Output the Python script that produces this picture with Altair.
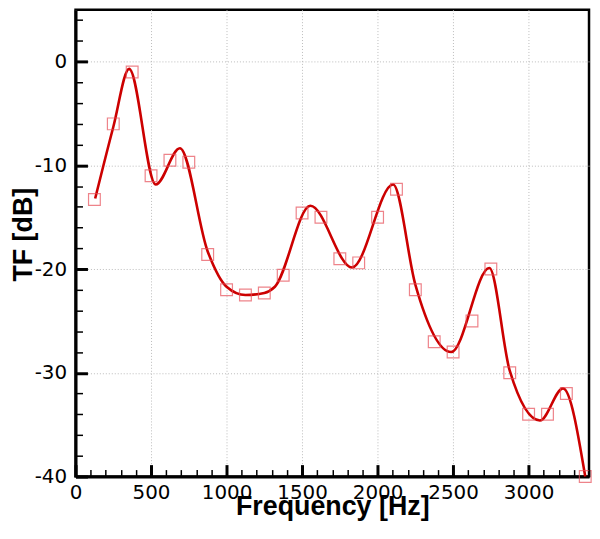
import altair as alt
import pandas as pd

# Measured points (squares)
freq_pts = [125, 250, 375, 500, 625, 750, 875, 1000, 1125, 1250, 1375, 1500, 1625, 1750,
            1875, 2000, 2125, 2250, 2375, 2500, 2625, 2750, 2875, 3000, 3125, 3250, 3375]
tf_pts = [-13.3, -6.0, -1.0, -11.0, -9.5, -9.7, -18.6, -22.0, -22.5, -22.3, -20.6, -14.6, -15.0, -19.0,
          -19.4, -15.0, -12.3, -22.0, -27.0, -28.0, -25.0, -20.0, -30.0, -34.0, -34.0, -32.0, -40.0]

# Smooth curve (read at its turning points)
freq_curve = [130, 250, 355, 531, 691, 875, 1000, 1125, 1250, 1320, 1555, 1831, 2103, 2250,
              2487, 2740, 2875, 3075, 3228, 3375]
tf_curve = [-13.2, -6.3, -0.7, -11.85, -8.35, -18.3, -21.7, -22.5, -22.3, -21.7, -13.9, -19.85, -11.85, -21.5,
            -28.0, -19.9, -29.8, -34.6, -31.5, -40.0]

x_major = [0, 500, 1000, 1500, 2000, 2500, 3000]
x_minor = list(range(0, 3401, 100))
y_major = [-40, -30, -20, -10, 0]
y_minor = list(range(-40, 5, 2))

W, H = 517, 470

pts = pd.DataFrame({"f": freq_pts, "tf": tf_pts})
crv = pd.DataFrame({"f": freq_curve, "tf": tf_curve})

xscale = alt.Scale(domain=[0, 3400], nice=False, zero=False)
yscale = alt.Scale(domain=[-40, 5], nice=False, zero=False)

# Layer 1: line with labelled axes + grid
line = alt.Chart(crv).mark_line(color="#CC0000", strokeWidth=2.6, interpolate="monotone").encode(
    x=alt.X("f:Q", scale=xscale, axis=alt.Axis(
        orient="bottom", values=x_major, title="Frequency [Hz]", labelExpr="'' + datum.value",
        labelFlush=False,
        grid=True, gridDash=[1, 2], gridColor="#bbbbbb", gridWidth=1,
        tickSize=0, domainColor="black", domainWidth=3,
        labelFont="DejaVu Sans", labelFontSize=20, labelColor="black", labelPadding=6,
        titleFont="Liberation Sans", titleFontSize=27, titleFontWeight="bold", titleColor="black",
        titleY=38, titleBaseline="alphabetic", zindex=0)),
    y=alt.Y("tf:Q", scale=yscale, axis=alt.Axis(
        orient="left", values=y_major, title="TF [dB]", labelExpr="'' + datum.value",
        labelFlush=False,
        grid=True, gridDash=[1, 2], gridColor="#bbbbbb", gridWidth=1,
        tickSize=0, domainColor="black", domainWidth=3,
        labelFont="DejaVu Sans", labelFontSize=20, labelColor="black", labelPadding=9,
        titleFont="Liberation Sans", titleFontSize=27, titleFontWeight="bold", titleColor="black",
        titleX=-44, titleY=226, titleBaseline="alphabetic", zindex=0)),
)

# Layer 2: squares with inward major ticks
squares = alt.Chart(pts).mark_point(shape="square", size=140, filled=False, color="#E8505A", strokeWidth=1.2).encode(
    x=alt.X("f:Q", scale=xscale, axis=alt.Axis(
        orient="top", offset=-H, values=x_major, labels=False, title=None, grid=False,
        domain=False, tickSize=12, tickWidth=3, tickColor="black", zindex=1)),
    y=alt.Y("tf:Q", scale=yscale, axis=alt.Axis(
        orient="right", offset=-W, values=y_major, labels=False, title=None, grid=False,
        domain=False, tickSize=12, tickWidth=3, tickColor="black", zindex=1)),
)

# Layer 3: invisible layer carrying inward minor ticks
minor = alt.Chart(pts).mark_point(opacity=0).encode(
    x=alt.X("f:Q", scale=xscale, axis=alt.Axis(
        orient="top", offset=-H, values=x_minor, labels=False, title=None, grid=False,
        domain=False, tickSize=7, tickWidth=1.5, tickColor="black", zindex=1)),
    y=alt.Y("tf:Q", scale=yscale, axis=alt.Axis(
        orient="right", offset=-W, values=y_minor, labels=False, title=None, grid=False,
        domain=False, tickSize=7, tickWidth=1.5, tickColor="black", zindex=1)),
)

chart = alt.layer(line, squares, minor).resolve_axis(x="independent", y="independent").properties(
    width=W, height=H,
    autosize=alt.AutoSizeParams(type="none"),
    padding={"left": 68, "top": 0, "right": 3, "bottom": 44},
).configure_view(stroke="black", strokeWidth=2.5)

chart.save("out.html", embed_options={"renderer": "svg", "actions": False})
